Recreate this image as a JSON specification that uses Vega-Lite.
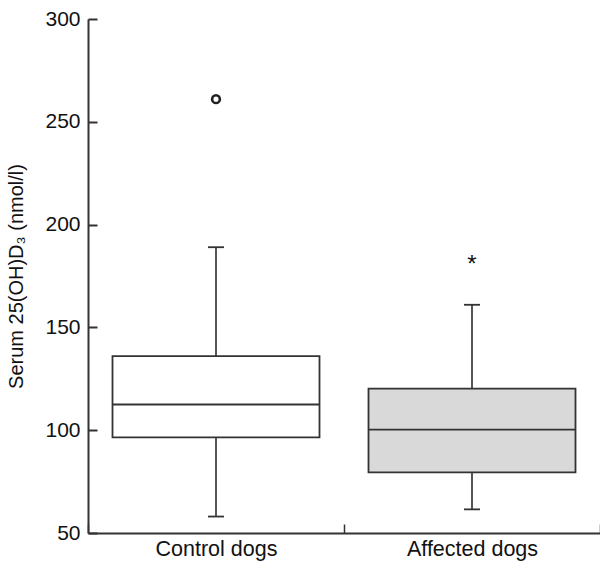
{
  "$schema": "https://vega.github.io/schema/vega-lite/v6.json",
  "width": 512,
  "height": 514,
  "autosize": {"type": "none"},
  "padding": {"left": 88, "top": 19, "right": 0, "bottom": 31},
  "background": "white",
  "config": {
    "view": {"stroke": null},
    "font": "Liberation Sans"
  },
  "datasets": {
    "stats": [
      {"group": "Control dogs", "lower": 58, "q1": 96.5, "median": 112.5, "q3": 136, "upper": 189},
      {"group": "Affected dogs", "lower": 61.5, "q1": 79.5, "median": 100.3, "q3": 120.2, "upper": 161}
    ],
    "outliers": [
      {"group": "Control dogs", "value": 261, "kind": "outlier"},
      {"group": "Affected dogs", "value": 183, "kind": "extreme"}
    ]
  },
  "data": {"name": "stats"},
  "encoding": {
    "x": {
      "field": "group",
      "type": "nominal",
      "sort": ["Control dogs", "Affected dogs"],
      "scale": {"paddingInner": 0, "paddingOuter": 0},
      "axis": {
        "title": null,
        "labelAngle": 0,
        "labelFontSize": 21.5,
        "labelColor": "#111",
        "labelPadding": 14,
        "tickBand": "extent",
        "tickSize": -9,
        "tickColor": "#333",
        "tickWidth": 1.5,
        "domainColor": "#333",
        "domainWidth": 2
      }
    }
  },
  "layer": [
    {
      "mark": {"type": "rule", "color": "#444", "strokeWidth": 1.8},
      "encoding": {
        "y": {
          "field": "lower",
          "type": "quantitative",
          "scale": {"domain": [50, 300], "nice": false, "zero": false},
          "axis": {
            "title": "Serum 25(OH)D₃ (nmol/l)",
            "titleFontSize": 20,
            "titleFontWeight": "normal",
            "titleColor": "#111",
            "titleX": -62,
            "values": [50, 100, 150, 200, 250, 300],
            "grid": false,
            "labelFontSize": 21,
            "labelColor": "#111",
            "labelPadding": 17,
            "tickSize": -9,
            "tickColor": "#333",
            "tickWidth": 2,
            "domainColor": "#333",
            "domainWidth": 2
          }
        },
        "y2": {"field": "q1"}
      }
    },
    {
      "mark": {"type": "rule", "color": "#444", "strokeWidth": 1.8},
      "encoding": {
        "y": {"field": "q3", "type": "quantitative"},
        "y2": {"field": "upper"}
      }
    },
    {
      "mark": {"type": "bar", "size": 207, "stroke": "#333", "strokeWidth": 1.8},
      "encoding": {
        "y": {"field": "q1", "type": "quantitative"},
        "y2": {"field": "q3"},
        "fill": {
          "field": "group",
          "type": "nominal",
          "scale": {"domain": ["Control dogs", "Affected dogs"], "range": ["#ffffff", "#d9d9d9"]},
          "legend": null
        }
      }
    },
    {
      "mark": {"type": "tick", "size": 207, "thickness": 1.8, "color": "#333", "opacity": 1},
      "encoding": {"y": {"field": "median", "type": "quantitative"}}
    },
    {
      "mark": {"type": "tick", "size": 16, "thickness": 1.8, "color": "#333", "opacity": 1},
      "encoding": {"y": {"field": "lower", "type": "quantitative"}}
    },
    {
      "mark": {"type": "tick", "size": 16, "thickness": 1.8, "color": "#333", "opacity": 1},
      "encoding": {"y": {"field": "upper", "type": "quantitative"}}
    },
    {
      "data": {"name": "outliers"},
      "transform": [{"filter": "datum.kind === 'outlier'"}],
      "mark": {"type": "point", "shape": "circle", "size": 60, "filled": false, "stroke": "#222", "strokeWidth": 2.6, "opacity": 1},
      "encoding": {"y": {"field": "value", "type": "quantitative"}}
    },
    {
      "data": {"name": "outliers"},
      "transform": [{"filter": "datum.kind === 'extreme'"}],
      "mark": {"type": "text", "text": "*", "fontSize": 24, "baseline": "middle", "dy": 5, "color": "#111"},
      "encoding": {"y": {"field": "value", "type": "quantitative"}}
    }
  ]
}
